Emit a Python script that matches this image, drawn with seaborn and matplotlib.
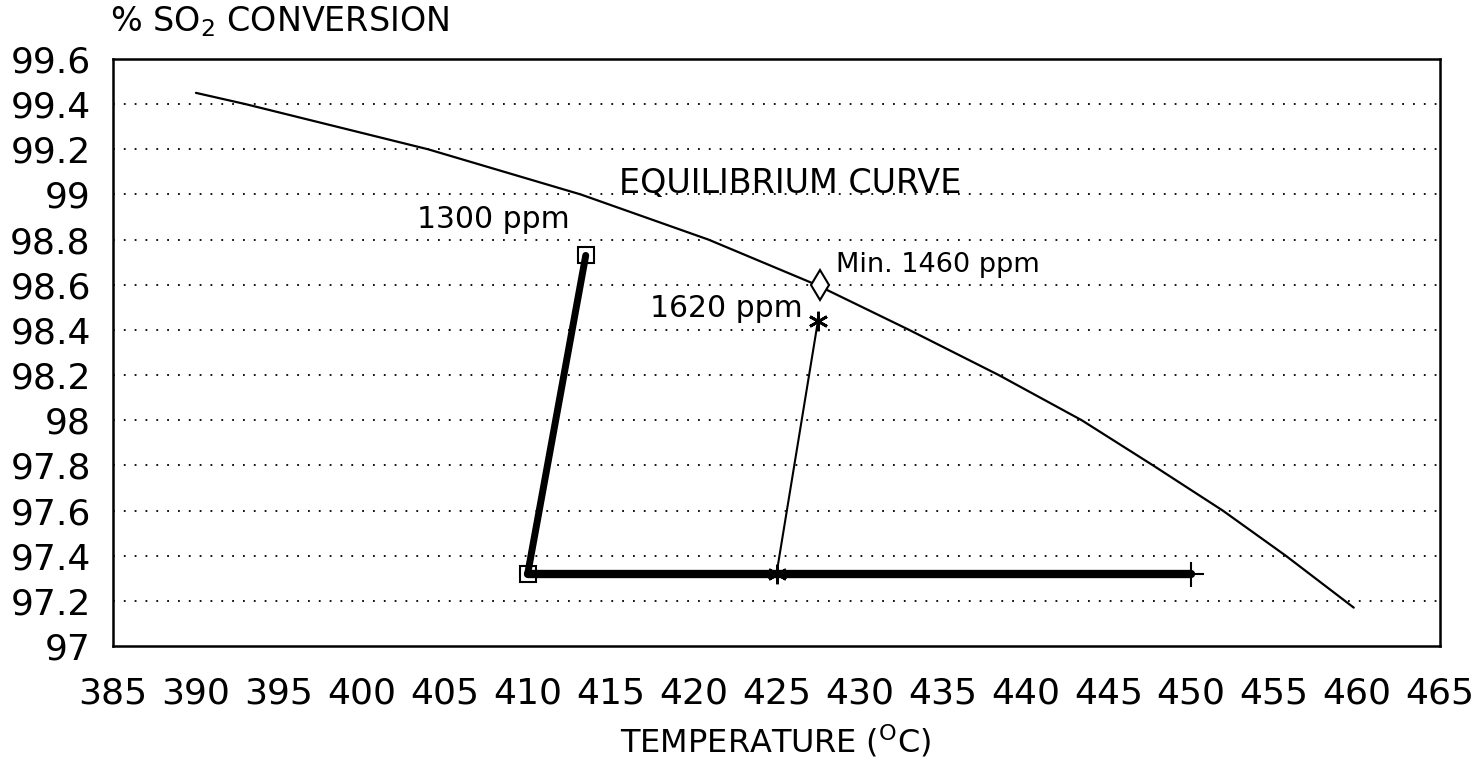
import matplotlib
matplotlib.use("Agg")
import matplotlib.pyplot as plt
import seaborn as sns
import numpy as np

# ---- data ----
eq_temp = [390.0, 393.0, 404.0, 413.2, 420.9, 427.4, 433.0, 438.4, 443.4, 447.7, 451.9, 455.7, 459.8]
eq_conv = [99.45, 99.40, 99.20, 99.00, 98.80, 98.60, 98.40, 98.20, 98.00, 97.80, 97.60, 97.40, 97.17]

ppm1300_temp = [410.0, 413.5]
ppm1300_conv = [97.32, 98.73]

base_temp = [410.0, 450.0]
base_conv = [97.32, 97.32]

ppm1620_temp = [425.0, 427.5]
ppm1620_conv = [97.32, 98.44]

min1460_temp = [427.6]
min1460_conv = [98.60]

x_ticks = list(range(385, 466, 5))
y_ticks = [97.0, 97.2, 97.4, 97.6, 97.8, 98.0, 98.2, 98.4, 98.6, 98.8, 99.0, 99.2, 99.4, 99.6]
y_labels = ["97", "97.2", "97.4", "97.6", "97.8", "98", "98.2", "98.4", "98.6", "98.8",
            "99", "99.2", "99.4", "99.6"]

sns.set_style("white")
plt.rcParams["font.family"] = ["DejaVu Sans"]
plt.rcParams["mathtext.default"] = "regular"
plt.rcParams["text.color"] = "black"

fig = plt.figure(figsize=(14.81, 7.62), dpi=100)
ax = fig.add_axes([113 / 1481, 1 - 646 / 762, (1440 - 113) / 1481, (646 - 59) / 762])

# equilibrium curve
sns.lineplot(x=eq_temp, y=eq_conv, ax=ax, color="black", lw=1.6, sort=False, estimator=None)
# base thick line
sns.lineplot(x=base_temp, y=base_conv, ax=ax, color="black", lw=6, sort=False, estimator=None,
             marker="+", markersize=18, markeredgewidth=1.5, markeredgecolor="black",
             markevery=[1])
# 1300 ppm
sns.lineplot(x=ppm1300_temp, y=ppm1300_conv, ax=ax, color="black", lw=5, sort=False, estimator=None,
             marker="s", markersize=11, markerfacecolor="none", markeredgecolor="black",
             markeredgewidth=1.5)
# 1620 ppm
sns.lineplot(x=ppm1620_temp, y=ppm1620_conv, ax=ax, color="black", lw=1.5, sort=False, estimator=None,
             marker=(6, 2, 0), markersize=14, markeredgewidth=2, markeredgecolor="black")
# minimum diamond
sns.lineplot(x=min1460_temp, y=min1460_conv, ax=ax, color="black", lw=0, sort=False, estimator=None,
             marker="d", markersize=15, markerfacecolor="white", markeredgecolor="black",
             markeredgewidth=1.5)

# annotations
ax.text(415.5, 99.006, "EQUILIBRIUM CURVE", fontsize=24, va="baseline", ha="left")
ax.text(403.3, 98.851, "1300 ppm", fontsize=21.5, va="baseline", ha="left")
ax.text(428.6, 98.656, "Min. 1460 ppm", fontsize=19.5, va="baseline", ha="left")
ax.text(417.4, 98.457, "1620 ppm", fontsize=21.5, va="baseline", ha="left")

ax.set_xlim(385, 465)
ax.set_ylim(97, 99.6)
ax.set_xticks(x_ticks)
ax.set_xticklabels([str(t) for t in x_ticks])
ax.set_yticks(y_ticks)
ax.set_yticklabels(y_labels)
ax.tick_params(axis="both", direction="in", length=15, width=1.5, color="black",
               labelsize=26, labelcolor="black")
ax.tick_params(axis="x", pad=22)
ax.tick_params(axis="y", pad=16)

for v in y_ticks[1:-1]:
    ax.axhline(v, color="black", lw=1.3, ls=(0, (1, 5)), zorder=0)

for s in ax.spines.values():
    s.set_visible(True)
    s.set_color("black")
    s.set_linewidth(1.8)

ax.set_xlabel("")
ax.set_ylabel("")
fig.text(110 / 1481, 1 - 22 / 762, r"% SO$_2$ CONVERSION", fontsize=24, va="center", ha="left")
fig.text(776 / 1481, 1 - 741 / 762, r"TEMPERATURE ($^{\rm O}$C)", fontsize=23, va="center", ha="center")

fig.savefig("out.png", dpi=100)
